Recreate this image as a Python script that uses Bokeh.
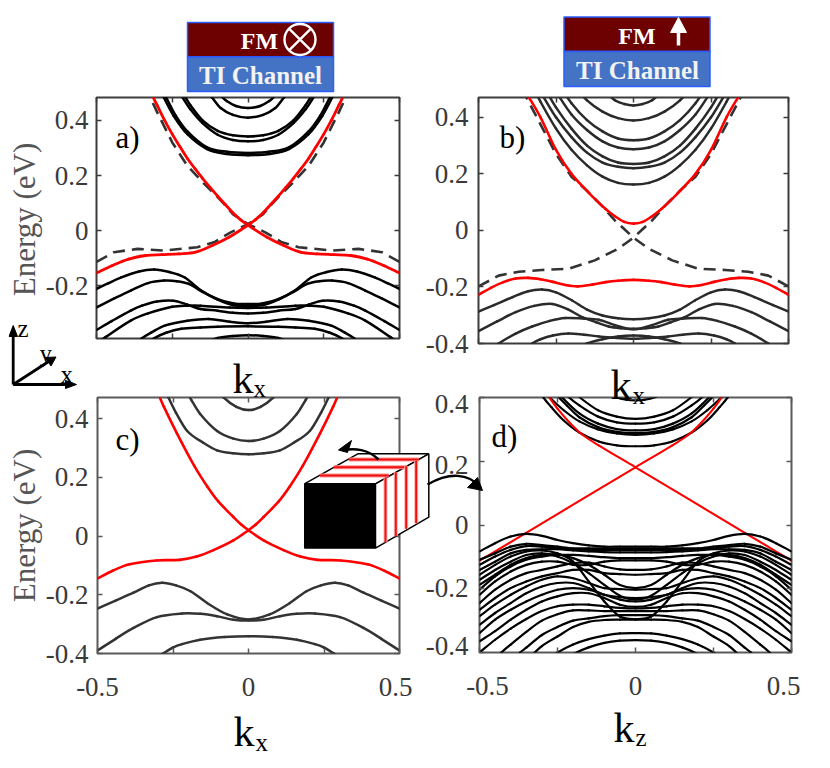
from math import pi
from bokeh.plotting import figure
from bokeh.layouts import column
from bokeh.models import Range1d, LinearAxis, FixedTicker
from bokeh.core.properties import value
from bokeh.embed import file_html
from bokeh.resources import INLINE

# ---------- data: (|k|, energy) half-bands, mirrored at k = 0 ----------
a_red_up = ([0,.025,.05,.075,.1,.125,.15,.175,.2,.225,.25,.275,.3,.325,.35],
            [.02,.04,.065,.095,.125,.157,.19,.225,.262,.305,.35,.40,.455,.51,.56])
a_red_low = ([0,.063,.118,.173,.228,.283,.338,.394,.449,.5],
             [.02,-.024,-.054,-.078,-.084,-.087,-.09,-.103,-.127,-.153])
a_dash_up = ([0,.05,.08,.1,.15,.2,.25,.3,.33,.36],
             [.024,.06,.098,.122,.176,.235,.32,.43,.5,.56])
a_dash_low = ([0,.057,.112,.167,.277,.365,.442,.5],
              [.024,-.006,-.042,-.06,-.072,-.066,-.078,-.113])
a_upper = [
    ([0,.069,.135,.2,.245,.278,.3], [.274,.278,.296,.35,.416,.483,.53]),
    ([0,.069,.135,.2,.24,.27,.29], [.282,.286,.302,.36,.42,.483,.52]),
    ([0,.05,.1,.15,.19,.22], [.324,.329,.348,.39,.44,.49]),
    ([0,.05,.1,.15,.19,.21], [.342,.346,.362,.40,.455,.49]),
    ([0,.05,.09,.12,.14], [.41,.42,.445,.485,.51]),
    ([0,.04,.07,.09], [.445,.452,.47,.49]),
]
a_lower = [
    ([0,.047,.102,.157,.21,.26,.31,.36,.42,.46,.5], [-.266,-.264,-.247,-.215,-.169,-.15,-.141,-.148,-.17,-.19,-.211]),
    ([0,.05,.1,.15,.195,.235,.277,.33,.387,.44,.5], [-.273,-.27,-.25,-.222,-.193,-.183,-.181,-.19,-.217,-.245,-.278]),
    ([0,.05,.1,.157,.2,.247,.3,.35,.387,.45,.5], [-.30,-.298,-.29,-.284,-.268,-.254,-.257,-.272,-.29,-.328,-.36]),
    ([0,.06,.157,.2,.25,.33,.387,.47,.5], [-.28,-.279,-.272,-.272,-.276,-.30,-.326,-.386,-.41]),
    ([0,.06,.13,.2,.277,.32,.35,.37], [-.336,-.33,-.32,-.327,-.345,-.37,-.39,-.41]),
    ([0,.1,.157,.22,.27,.31,.33], [-.347,-.348,-.351,-.356,-.37,-.39,-.41]),
    ([0,.05,.1,.13], [-.379,-.382,-.389,-.4]),
]

b_red_up = ([0,.03,.06,.09,.12,.15,.2,.25,.3,.34,.36], [.024,.03,.05,.076,.106,.14,.2,.285,.4,.475,.51])
b_red_low = ([0,.05,.09,.13,.18,.22,.26,.3,.34,.38,.42,.46,.5],
             [-.175,-.178,-.183,-.191,-.198,-.193,-.182,-.173,-.168,-.17,-.183,-.203,-.228])
b_dash_up = ([0,.03,.06,.1,.15,.2,.25,.3,.35,.37], [-.026,.005,.035,.085,.14,.19,.27,.375,.48,.52])
b_dash_low = ([0,.05,.125,.21,.296,.37,.435,.5], [-.026,-.065,-.106,-.136,-.14,-.146,-.16,-.198])
b_upper = [
    ([0,.05,.1,.15,.2,.25,.3,.33], [.162,.168,.19,.23,.285,.36,.455,.52]),
    ([0,.05,.1,.15,.2,.25,.3], [.22,.225,.24,.275,.33,.4,.49]),
    ([0,.05,.1,.15,.2,.25,.29], [.235,.24,.262,.30,.36,.435,.51]),
    ([0,.05,.1,.15,.2,.25], [.287,.293,.315,.355,.41,.49]),
    ([0,.05,.1,.15,.2,.25], [.319,.325,.35,.39,.45,.53]),
    ([0,.05,.1,.15,.2], [.389,.397,.42,.46,.52]),
    ([0,.03,.06,.09], [.442,.447,.46,.49]),
]
b_lower = [
    ([0,.05,.1,.15,.198,.25,.295,.34,.39,.45,.5], [-.314,-.311,-.301,-.28,-.248,-.219,-.209,-.215,-.236,-.264,-.287]),
    ([0,.04,.08,.12,.165,.21,.262,.32,.38,.44,.5], [-.348,-.346,-.34,-.325,-.307,-.28,-.26,-.267,-.289,-.322,-.356]),
    ([0,.06,.112,.16,.22,.27,.327,.38,.435,.46], [-.35,-.335,-.316,-.312,-.31,-.32,-.34,-.365,-.4,-.42]),
    ([0,.06,.112,.16,.21,.26,.3,.327,.35], [-.383,-.38,-.375,-.369,-.365,-.372,-.385,-.4,-.42]),
    ([0,.05,.1,.15,.18], [-.372,-.375,-.385,-.4,-.42]),
]

c_red_up = ([0,.025,.05,.1,.136,.18,.237,.28,.31,.33], [.02,.04,.065,.118,.168,.24,.35,.44,.51,.55])
c_red_low = ([0,.05,.116,.172,.228,.305,.394,.45,.5], [.02,-.015,-.048,-.07,-.081,-.083,-.096,-.118,-.145])
c_upper = [
    ([0,.05,.104,.15,.203,.24,.265,.285], [.279,.282,.292,.318,.358,.42,.472,.52]),
    ([0,.05,.104,.16,.19,.22], [.324,.332,.358,.416,.465,.52]),
    ([0,.04,.082,.1], [.429,.44,.472,.5]),
]
c_lower = [
    ([0,.07,.137,.192,.24,.286,.33,.381,.44,.5], [-.284,-.267,-.228,-.188,-.168,-.159,-.168,-.193,-.22,-.247]),
    ([0,.05,.104,.16,.22,.303,.381,.44,.5], [-.288,-.285,-.273,-.265,-.264,-.276,-.313,-.35,-.39]),
    ([0,.08,.16,.22,.249,.286,.31], [-.341,-.344,-.353,-.368,-.379,-.402,-.42]),
]

d_red_low = ([0,.353,.5], [.181,-.026,-.112])
d_red_up = ([0,.118,.17,.21,.25,.28,.30], [.181,.25,.283,.32,.365,.405,.43])
d_upper = [
    ([0,.06,.118,.18,.23,.27,.295,.32], [.247,.25,.262,.29,.328,.37,.4,.44]),
    ([0,.06,.12,.18,.23,.28,.3], [.283,.287,.3,.325,.36,.405,.43]),
    ([0,.06,.12,.18,.22,.25,.27], [.288,.292,.307,.338,.375,.405,.43]),
    ([0,.06,.12,.18,.24,.26], [.297,.301,.318,.35,.405,.43]),
    ([0,.06,.12,.18,.23,.25], [.318,.322,.34,.375,.415,.44]),
    ([0,.06,.12,.185,.2], [.333,.34,.36,.405,.42]),
    ([0,.03,.065,.08], [.391,.393,.402,.41]),
]
d_grid = [0,.05,.1,.15,.2,.25,.3,.35,.4,.45,.5]
d_lower_full = [
    [-.068,-.068,-.068,-.064,-.057,-.047,-.034,-.028,-.036,-.057,-.083],
    [-.073,-.073,-.073,-.073,-.073,-.068,-.063,-.059,-.068,-.089,-.109],
    [-.078,-.078,-.078,-.078,-.076,-.073,-.068,-.066,-.078,-.099,-.125],
    [-.086,-.086,-.085,-.083,-.080,-.076,-.076,-.078,-.089,-.115,-.141],
    [-.295,-.287,-.240,-.177,-.115,-.089,-.080,-.083,-.099,-.125,-.156],
    [-.234,-.222,-.188,-.151,-.120,-.099,-.089,-.094,-.115,-.141,-.172],
    [-.198,-.188,-.156,-.125,-.104,-.092,-.094,-.104,-.125,-.156,-.188],
    [-.104,-.104,-.101,-.097,-.094,-.094,-.099,-.109,-.130,-.161,-.203],
    [-.111,-.111,-.115,-.125,-.125,-.115,-.115,-.125,-.146,-.177,-.219],
    [-.141,-.139,-.130,-.118,-.120,-.130,-.141,-.151,-.172,-.203,-.245],
    [-.156,-.154,-.151,-.141,-.141,-.151,-.161,-.177,-.198,-.229,-.266],
    [-.203,-.201,-.198,-.182,-.167,-.161,-.172,-.193,-.219,-.25,-.286],
    [-.229,-.226,-.219,-.198,-.182,-.182,-.193,-.214,-.245,-.276,-.313],
    [-.24,-.234,-.219,-.203,-.198,-.203,-.219,-.24,-.266,-.297,-.339],
    [-.257,-.25,-.229,-.214,-.214,-.224,-.24,-.266,-.297,-.333,-.365],
    [-.262,-.26,-.255,-.25,-.25,-.255,-.27,-.295,-.325,-.36,-.40],
]
d_lower_part = [
    ([0,.05,.1,.15,.2,.25,.3,.35,.4,.43,.45], [-.27,-.27,-.27,-.268,-.268,-.28,-.30,-.335,-.375,-.4,-.42]),
    ([0,.05,.1,.15,.2,.25,.3,.35,.37,.39], [-.283,-.283,-.286,-.293,-.30,-.32,-.345,-.385,-.4,-.42]),
    ([0,.05,.1,.15,.2,.25,.3,.35], [-.297,-.297,-.298,-.304,-.32,-.35,-.38,-.425]),
    ([0,.05,.1,.15,.2,.25,.3], [-.339,-.34,-.347,-.358,-.375,-.40,-.43]),
    ([0,.05,.1,.15,.2,.22], [-.361,-.363,-.37,-.384,-.405,-.42]),
]

x_ticks = [-.5,-.25,0,.25,.5]
x_labels = {-.5:"-0.5", 0:"0", .5:"0.5"}
y_ticks = [-.4,-.2,0,.2,.4]
y_labels = {-.4:"-0.4", -.2:"-0.2", 0:"0", .2:"0.2", .4:"0.4"}

SERIF = "Liberation Serif"
INK = "#3a3a3a"
PAD = 14


def mirror(k, e):
    return [-v for v in reversed(k[1:])] + list(k), list(reversed(e[1:])) + list(e)


def crossing(low, up):
    """Band coming in on one low branch and leaving on the other side's steep branch."""
    return [-v for v in reversed(low[0][1:])] + list(up[0]), list(reversed(low[1][1:])) + list(up[1])


def smooth(p, xs, ys, color, width):
    """Draw a band through its read values as smooth Bezier spans."""
    n = len(xs)
    m = []
    for i in range(n):
        a, b = max(i - 1, 0), min(i + 1, n - 1)
        m.append((ys[b] - ys[a]) / (xs[b] - xs[a]))
    x0, y0, x1, y1, cx0, cy0, cx1, cy1 = [], [], [], [], [], [], [], []
    for i in range(n - 1):
        h = (xs[i + 1] - xs[i]) / 3
        x0.append(xs[i]); y0.append(ys[i]); x1.append(xs[i + 1]); y1.append(ys[i + 1])
        cx0.append(xs[i] + h); cy0.append(ys[i] + m[i] * h)
        cx1.append(xs[i + 1] - h); cy1.append(ys[i + 1] - m[i + 1] * h)
    p.bezier(x0=x0, y0=y0, x1=x1, y1=y1, cx0=cx0, cy0=cy0, cx1=cx1, cy1=cy1,
             line_color=color, line_width=width, line_cap="round")


def panel(x0, x1, y0, y1, ylim, frame="#3c3c3c"):
    w, h = x1 - x0, y1 - y0
    p = figure(width=2 * PAD + w, height=2 * PAD + h, min_border_left=PAD, min_border_right=PAD,
               min_border_top=PAD, min_border_bottom=PAD, x_range=Range1d(-.5, .5),
               y_range=Range1d(*ylim), x_axis_location=None, y_axis_location=None,
               output_backend="svg", toolbar_location=None, background_fill_color="white",
               border_fill_alpha=0)
    p.grid.visible = False
    p.outline_line_color = frame
    p.outline_line_width = 2
    blank_x = {v: "" for v in x_ticks}
    blank_y = {v: "" for v in y_ticks}
    for side, ticks, lab in (("left", y_ticks, blank_y), ("right", y_ticks, blank_y),
                             ("below", x_ticks, blank_x), ("above", x_ticks, blank_x)):
        ax = LinearAxis(ticker=FixedTicker(ticks=ticks), major_label_overrides=lab,
                        major_tick_in=5, major_tick_out=0, minor_tick_line_color=None,
                        axis_line_color=None, major_tick_line_color=frame, major_tick_line_width=1.5,
                        major_label_standoff=0, major_label_text_font_size="1px")
        p.add_layout(ax, side)
    p.styles = {"position": "absolute", "left": f"{x0 - PAD}px", "top": f"{y0 - PAD}px"}
    return p


def bands(p, items, color, width=2.5):
    for k, e in items:
        fx, fy = mirror(k, e)
        smooth(p, fx, fy, color, width)


def vee(p, low, up, color, width):
    fx, fy = crossing(low, up)
    smooth(p, fx, fy, color, width)
    smooth(p, [-v for v in reversed(fx)], list(reversed(fy)), color, width)


def dashed(p, low, up, color, width):
    fx, fy = crossing(low, up)
    p.line(fx, fy, line_color=color, line_width=width, line_dash="12 7")
    p.line([-v for v in fx], fy, line_color=color, line_width=width, line_dash="12 7")


# ---------- panels ----------
A = (96, 399, 97, 338, (-.391, .483))
B = (478, 788, 97, 343, (-.4, .47))
C = (97, 399, 397, 653, (-.4, .472))
D = (479, 791, 397, 652, (-.4, .4))

pa = panel(*A)
bands(pa, a_upper + a_lower, "#000000", 2.5)
dashed(pa, a_dash_low, a_dash_up, "#333333", 2.6)
vee(pa, a_red_low, a_red_up, "#ff0000", 2.8)

pb = panel(*B)
bands(pb, b_upper + b_lower, "#2a2a2a", 2.5)
dashed(pb, b_dash_low, b_dash_up, "#333333", 2.6)
bands(pb, [b_red_up, b_red_low], "#ff0000", 2.6)

pc = panel(*C, frame="#5a5a5a")
bands(pc, c_upper + c_lower, "#333333", 2.5)
vee(pc, c_red_low, c_red_up, "#ff0000", 2.6)

pd = panel(*D, frame="#5a5a5a")
bands(pd, d_upper, "#000000", 2.2)
vee(pd, d_red_low, d_red_up, "#ff0000", 2.1)
bands(pd, [(d_grid, e) for e in d_lower_full] + d_lower_part, "#000000", 2.2)

# ---------- schematic overlay, in page pixels ----------
# The layout lines up the frames of its children, so this frame sits PAD px in from its own left edge
# and is 814 px wide inside the 820 px element.
ov = figure(frame_width=820, frame_height=752, x_range=Range1d(8, 822),
            y_range=Range1d(760, 8), x_axis_location=None, y_axis_location=None, min_border=0,
            min_border_left=0, min_border_right=0, min_border_top=0, min_border_bottom=0,
            output_backend="svg", toolbar_location=None, background_fill_alpha=0, border_fill_alpha=0)
ov.grid.visible = False
ov.outline_line_color = None
ov.styles = {"position": "absolute", "left": f"{8 - PAD}px", "top": "8px"}


def label(txt, x, y, size, color="#000000", bold=False, align="left", baseline="alphabetic", angle=0):
    ov.text([x], [y], text=[txt], text_font=value(SERIF), text_font_size=f"{size}px",
            text_color=color, text_align=align, text_baseline=baseline, angle=angle,
            text_font_style="bold" if bold else "normal")


def tick_text(box, xlabels=False, standoff=9, xshift={}, yshift={}):
    x0, x1, y0, y1, ylim = box
    for v, t in y_labels.items():
        if ylim[0] <= v <= ylim[1]:
            py = y0 + (ylim[1] - v) / (ylim[1] - ylim[0]) * (y1 - y0)
            label(t, x0 - standoff, py + yshift.get(v, 0), 27, INK, align="right", baseline="middle")
    if xlabels:
        for v, t in x_labels.items():
            label(t, (x0 + x1) / 2 + v * (x1 - x0) + xshift.get(v, 0), y1 + 33, 27, INK, align="center")


tick_text(A, standoff=8)
tick_text(B, standoff=10)
tick_text(C, xlabels=True, xshift={.5: -4})
tick_text(D, xlabels=True, standoff=11, xshift={-.5: 8, .5: -8}, yshift={.4: 6, .2: 4, -.2: -1, -.4: -7})
label("Energy (eV)", 24, 219, 31, "#555555", align="center", baseline="middle", angle=pi / 2)
label("Energy (eV)", 24, 525, 31, "#555555", align="center", baseline="middle", angle=pi / 2)


def stack(x0, x1, y0, y1, y2):
    ov.quad(left=[x0], right=[x1], top=[y0], bottom=[y1], fill_color="#6d0000", line_color="#2a5cff", line_width=1.5)
    ov.quad(left=[x0], right=[x1], top=[y1], bottom=[y2], fill_color="#4472c4", line_color="#2a5cff", line_width=1.5)


stack(187, 333, 22, 56.5, 91)
label("FM", 259, 40, 24, "#ffffff", True, "center", "middle")
ov.scatter([299.5], [39], marker="circle_x", size=31, fill_color=None, line_color="#ffffff", line_width=2.4)
label("TI Channel", 260, 75, 25, "#f2f2f2", True, "center", "middle")

stack(563.5, 709.5, 16.5, 51, 86)
label("FM", 636.5, 35, 24, "#ffffff", True, "center", "middle")
ov.line([678, 678], [45, 28], line_color="#ffffff", line_width=3.5)
ov.patch([678, 670, 686], [17, 32, 32], fill_color="#ffffff", line_color="#ffffff", line_width=1)
label("TI Channel", 637, 70, 25, "#f2f2f2", True, "center", "middle")

for t, x, y in (("a)", 115, 137), ("b)", 499, 137), ("c)", 115, 439), ("d)", 491, 436)):
    label(t, x, y, 31)

for kx, ky, sub, sx, sy in ((232, 378, "x", 253, 388), (610, 384, "x", 632, 395),
                            (233, 731, "x", 255, 742), (613, 727, "z", 635, 737)):
    label("k", kx, ky, 42)
    label(sub, sx, sy, 25)

# coordinate triad
ov.line([12.7, 12.7], [384, 332], line_color="#000000", line_width=2.8)
ov.patch([12.7, 8.5, 17], [325, 336, 336], fill_color="#000000", line_color="#000000")
ov.line([12.7, 68], [384, 384], line_color="#000000", line_width=2.8)
ov.patch([76, 65, 65], [384, 380, 388], fill_color="#000000", line_color="#000000")
ov.line([12.7, 49], [384, 360.5], line_color="#000000", line_width=2.8)
ov.patch([55.5, 45, 50.5], [356.5, 357, 365.5], fill_color="#000000", line_color="#000000")
label("z", 17, 328, 25)
label("y", 39, 353, 25)
label("x", 60, 374, 25)

# cube
ov.patch([304, 357.3, 428.3, 375], [483.3, 453.3, 453.3, 483.3], fill_color="#ffffff", line_color="#000000", line_width=1.5)
ov.patch([375, 428.3, 428.3, 375], [483.3, 453.3, 516.7, 547.7], fill_color="#ffffff", line_color="#000000", line_width=1.5)
ov.segment([319.3, 333.3, 348.3], [475, 466.7, 459], [388.3, 406.7, 418.3], [475, 466.7, 459],
           line_color="#ff9090", line_width=4)
ov.segment([319.3, 333.3, 348.3], [475, 466.7, 459], [388.3, 406.7, 418.3], [475, 466.7, 459],
           line_color="#ee1111", line_width=2)
ov.segment([385, 395.3, 405.7, 415.7], [477.3, 471.7, 465.7, 460], [385, 395.3, 405.7, 415.7],
           [541.7, 535.7, 528.3, 522.7], line_color="#ffb0b0", line_width=4)
ov.segment([385, 395.3, 405.7, 415.7], [477.3, 471.7, 465.7, 460], [385, 395.3, 405.7, 415.7],
           [541.7, 535.7, 528.3, 522.7], line_color="#ee1111", line_width=2)
ov.quad(left=[304], right=[375], top=[483.3], bottom=[547.7], fill_color="#000000", line_color="#000000")

# curved arrows
ov.bezier(x0=[378], y0=[459], x1=[342], y1=[450], cx0=[368], cy0=[449], cx1=[354], cy1=[447],
          line_color="#000000", line_width=2.5)
ov.patch([338, 351, 347], [449.5, 440, 452], fill_color="#000000", line_color="#000000")
ov.bezier(x0=[427], y0=[484], x1=[480], y1=[487], cx0=[448], cy0=[472], cx1=[468], cy1=[472],
          line_color="#000000", line_width=2.5)
ov.patch([482, 467, 477], [490, 487, 477], fill_color="#000000", line_color="#000000")

root = column(pa, pb, pc, pd, ov, width=814, height=752, sizing_mode="fixed")
open("out.html", "w").write(file_html(root, INLINE))
